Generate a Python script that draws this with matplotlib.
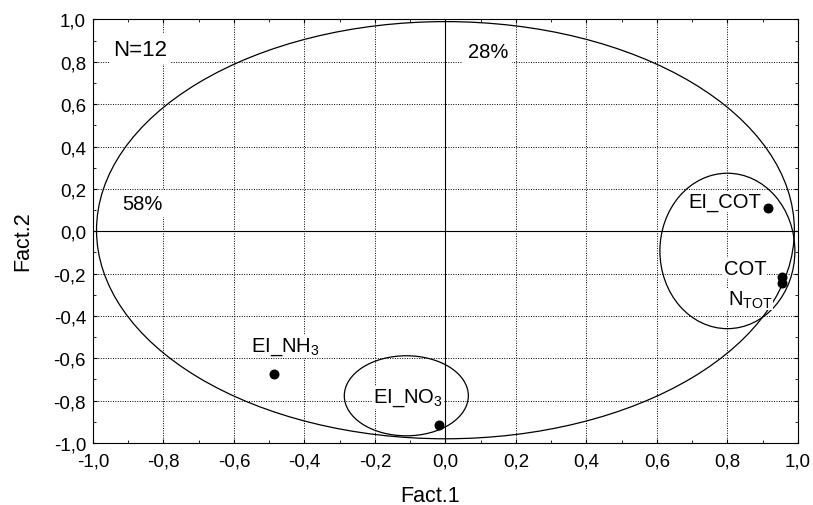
import matplotlib
matplotlib.use("Agg")
import matplotlib.pyplot as plt
from matplotlib.patches import Ellipse
from matplotlib.ticker import MultipleLocator, FuncFormatter

plt.rcParams['font.family'] = ['Liberation Sans', 'DejaVu Sans']
plt.rcParams['mathtext.fontset'] = 'custom'
plt.rcParams['mathtext.rm'] = 'Liberation Sans'

# loadings on factor 1 and 2
names = ['EI_COT', 'COT', 'N_TOT', 'EI_NH3', 'EI_NO3']
fact1 = [0.915, 0.954, 0.955, -0.486, -0.018]
fact2 = [0.11, -0.218, -0.244, -0.674, -0.913]

# label text and where it sits
labels = ['EI_COT', 'COT', r'N$_{\mathregular{TOT}}$', r'EI_NH$_{\mathregular{3}}$', r'EI_NO$_{\mathregular{3}}$']
lab_x = [0.793, 0.85, 0.864, -0.455, -0.106]
lab_y = [0.14, -0.175, -0.32, -0.545, -0.785]

# groups drawn as ellipses: centre x, centre y, width, height
ell_cx = [0.0, 0.80, -0.111]
ell_cy = [0.005, -0.093, -0.777]
ell_w = [1.98, 0.383, 0.352]
ell_h = [1.97, 0.734, 0.378]

notes = ['N=12', '28%', '58%']
note_x = [-0.866, 0.12, -0.86]
note_y = [0.86, 0.85, 0.13]
note_size = [16, 14.5, 14.5]

fig = plt.figure(figsize=(8.13, 5.06), dpi=100)
ax = fig.add_axes([0.1144, 0.1225, 0.867, 0.837])

ax.set_xlim(-1, 1)
ax.set_ylim(-1, 1)
ax.xaxis.set_major_locator(MultipleLocator(0.2))
ax.yaxis.set_major_locator(MultipleLocator(0.2))
ax.xaxis.set_minor_locator(MultipleLocator(0.1))
ax.yaxis.set_minor_locator(MultipleLocator(0.1))
fmt = FuncFormatter(lambda v, p: ('%.1f' % (0.0 if abs(v) < 1e-9 else v)).replace('.', ','))
ax.xaxis.set_major_formatter(fmt)
ax.yaxis.set_major_formatter(fmt)
ax.tick_params(which='both', direction='in', top=True, right=True, labelsize=13.5, color='black')
ax.tick_params(which='major', length=3)
ax.tick_params(which='minor', length=2)
ax.tick_params(axis='x', pad=7)
ax.tick_params(axis='y', pad=5)
ax.grid(True, which='major', linestyle=(0, (1, 1.5)), color='black', linewidth=0.7)
ax.axhline(0, color='black', linewidth=0.8)
ax.axvline(0, color='black', linewidth=0.8)

for cx, cy, w, h in zip(ell_cx, ell_cy, ell_w, ell_h):
    ax.add_patch(Ellipse((cx, cy), w, h, fill=False, edgecolor='black', linewidth=0.9, zorder=3))

ax.scatter(fact1, fact2, s=38, color='black', zorder=5)

for t, x, y in zip(labels, lab_x, lab_y):
    ax.text(x, y, t, fontsize=14.5, ha='center', va='center', zorder=4,
            bbox=dict(facecolor='white', edgecolor='none', pad=0.5))

for t, x, y, fs in zip(notes, note_x, note_y, note_size):
    ax.text(x, y, t, fontsize=fs, ha='center', va='center', zorder=4,
            bbox=dict(facecolor='white', edgecolor='none', pad=3))

ax.set_xlabel('Fact.1', fontsize=15.5)
ax.set_ylabel('Fact.2', fontsize=15.5)
ax.xaxis.set_label_coords(0.478, -0.098)
ax.yaxis.set_label_coords(-0.085, 0.479)

fig.savefig('out.png', dpi=100)
